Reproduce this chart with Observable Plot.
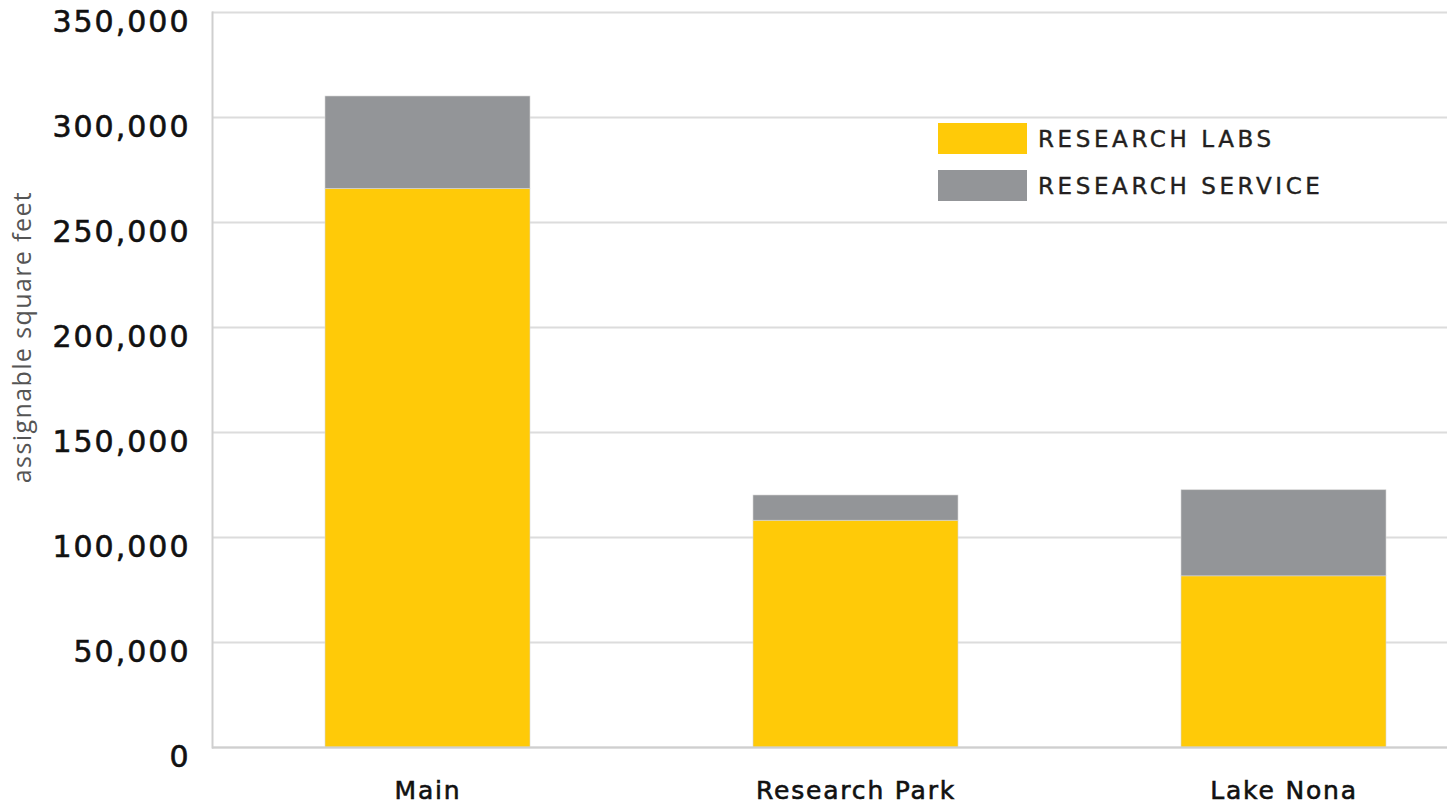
<!DOCTYPE html>
<html>
<head>
<meta charset="utf-8">
<script src="https://cdn.jsdelivr.net/npm/d3@7"></script>
<script src="https://cdn.jsdelivr.net/npm/@observablehq/plot@0.6"></script>
<style>
  html, body { margin: 0; padding: 0; background: #fff; }
  #wrap { position: relative; width: 1453px; height: 812px; font-family: "DejaVu Sans", sans-serif; }
  #legend { position: absolute; left: 938px; top: 123px; }
  .sw { display: flex; align-items: center; height: 31px; margin-bottom: 16px; }
  .sw span.box { width: 89px; height: 31px; display: inline-block; margin-right: 11px; }
  .sw span.lab { font-family: "DejaVu Sans", sans-serif; font-size: 23px; color: #231f20; letter-spacing: 3.6px;
                 -webkit-text-stroke: 0.4px #231f20; }
  #ylab { position: absolute; left: 21px; top: 337px; transform: translate(-50%, -50%) rotate(-90deg);
          white-space: nowrap; font-family: "Open Sans", sans-serif; font-size: 25px; color: #555; font-weight: 400;
          letter-spacing: 1.4px; }
  g[aria-label="y-axis tick label"] text { letter-spacing: 2px; stroke: #111; stroke-width: 0.6px; }
  g[aria-label="x-axis tick label"] text { letter-spacing: 1.8px; stroke: #111; stroke-width: 0.6px; }
</style>
</head>
<body>
<div id="wrap"></div>
<script>
const sites = ["Main", "Research Park", "Lake Nona"];
const types = ["RESEARCH LABS", "RESEARCH SERVICE"];
const researchLabs = [266000, 108000, 81500];
const researchService = [44000, 12000, 41000];
const colors = ["#FFCA08", "#939598"];
const yTicks = [0, 50000, 100000, 150000, 200000, 250000, 300000, 350000];
const yTitle = "assignable square feet";

const data = [];
sites.forEach((s, i) => {
  data.push({site: s, type: types[0], value: researchLabs[i]});
  data.push({site: s, type: types[1], value: researchService[i]});
});

const chart = Plot.plot({
  width: 1453,
  height: 812,
  marginLeft: 212,
  marginRight: 6,
  marginTop: 12,
  marginBottom: 65,
  style: {fontFamily: "DejaVu Sans, sans-serif", color: "#111", background: "#fff"},
  x: {domain: sites, paddingInner: 0.52, paddingOuter: 0.201, align: 0.65, label: null},
  y: {domain: [0, 350000], label: null},
  color: {domain: types, range: colors},
  marks: [
    Plot.gridY(yTicks, {stroke: "#dcdcdc", strokeOpacity: 1, strokeWidth: 2}),
    Plot.frame({anchor: "left", stroke: "#cfcfcf", strokeWidth: 2}),
    Plot.barY(data, {x: "site", y: "value", fill: "type", stroke: "#d8d8d8", strokeWidth: 0.6, order: types}),
    Plot.ruleY([0], {stroke: "#cfcfcf", strokeWidth: 2}),
    Plot.axisY(yTicks, {tickSize: 0, tickPadding: 22, fontSize: 30, dy: 10, tickFormat: d3.format(","), label: null}),
    Plot.axisX({tickSize: 0, tickPadding: 34, fontSize: 25, label: null})
  ]
});
const wrap = document.getElementById("wrap");
wrap.appendChild(chart);

const ylab = document.createElement("div");
ylab.id = "ylab";
ylab.textContent = yTitle;
wrap.appendChild(ylab);

const legend = document.createElement("div");
legend.id = "legend";
types.forEach((t, i) => {
  const row = document.createElement("div");
  row.className = "sw";
  const b = document.createElement("span");
  b.className = "box"; b.style.background = colors[i];
  const l = document.createElement("span");
  l.className = "lab"; l.textContent = t;
  row.appendChild(b); row.appendChild(l);
  legend.appendChild(row);
});
wrap.appendChild(legend);
</script>
</body>
</html>
